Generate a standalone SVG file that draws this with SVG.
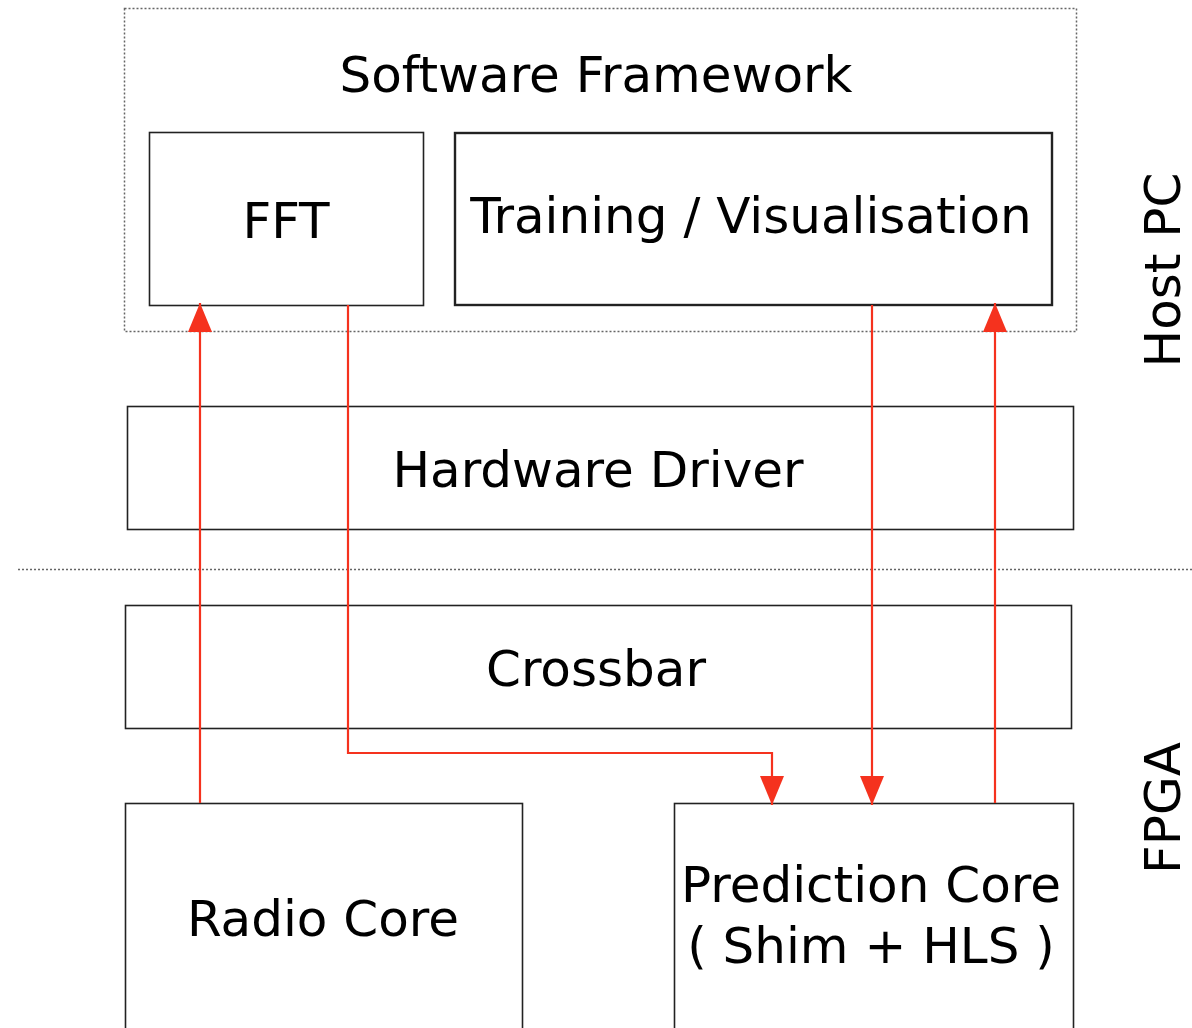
<svg xmlns="http://www.w3.org/2000/svg" width="1192" height="1028" viewBox="0 0 1192 1028">
<style>
.box{fill:#fff;stroke:#222;stroke-width:1.6}
.t{font-family:"DejaVu Sans",sans-serif;font-size:50px;fill:#000;text-anchor:middle}
.dot{fill:none;stroke:#666;stroke-width:1.5;stroke-dasharray:2 2}
.conn{fill:none;stroke:#f5321e;stroke-width:2.2}
</style>
<defs>
<marker id="ah" markerUnits="userSpaceOnUse" markerWidth="30" markerHeight="26" viewBox="0 0 30 26" refX="29" refY="12" orient="auto">
<path d="M0,0 L29,12 L0,24 Z" fill="#f5321e"/>
</marker>
</defs>
<rect width="1192" height="1028" fill="#fff"/>
<g id="host-frame">
<rect class="dot" x="124.5" y="8.5" width="952" height="323"/>
<text class="t" x="596" y="92">Software Framework</text>
</g>
<g id="fft">
<rect class="box" x="149.5" y="132.5" width="274" height="173"/>
<text class="t" x="286" y="238">FFT</text>
</g>
<g id="training">
<rect class="box" x="455" y="133" width="597" height="172" style="stroke-width:2.4"/>
<text class="t" x="751" y="233">Training / Visualisation</text>
</g>
<g id="hardware-driver">
<rect class="box" x="127.5" y="406.5" width="946" height="123"/>
<text class="t" x="598" y="487">Hardware Driver</text>
</g>
<line class="dot" x1="18" y1="569.5" x2="1192" y2="569.5"/>
<g id="crossbar">
<rect class="box" x="125.5" y="605.5" width="946" height="123"/>
<text class="t" x="596" y="686">Crossbar</text>
</g>
<g id="radio-core">
<rect class="box" x="125.5" y="803.5" width="397" height="240"/>
<text class="t" x="323" y="936">Radio Core</text>
</g>
<g id="prediction-core">
<rect class="box" x="674.5" y="803.5" width="399" height="240"/>
<text class="t" x="871" y="902">Prediction Core</text>
<text class="t" x="871" y="963">( Shim + HLS )</text>
</g>
<g id="host-pc-label">
<text class="t" transform="translate(1180,270) rotate(-90)">Host PC</text>
</g>
<g id="fpga-label">
<text class="t" transform="translate(1180,808) rotate(-90)">FPGA</text>
</g>
<g id="connectors">
<path class="conn" d="M200,803 L200,303" marker-end="url(#ah)"/>
<path class="conn" d="M348,305 L348,753 L772,753 L772,805" marker-end="url(#ah)"/>
<path class="conn" d="M872,305 L872,805" marker-end="url(#ah)"/>
<path class="conn" d="M995,803 L995,303" marker-end="url(#ah)"/>
</g>
</svg>
